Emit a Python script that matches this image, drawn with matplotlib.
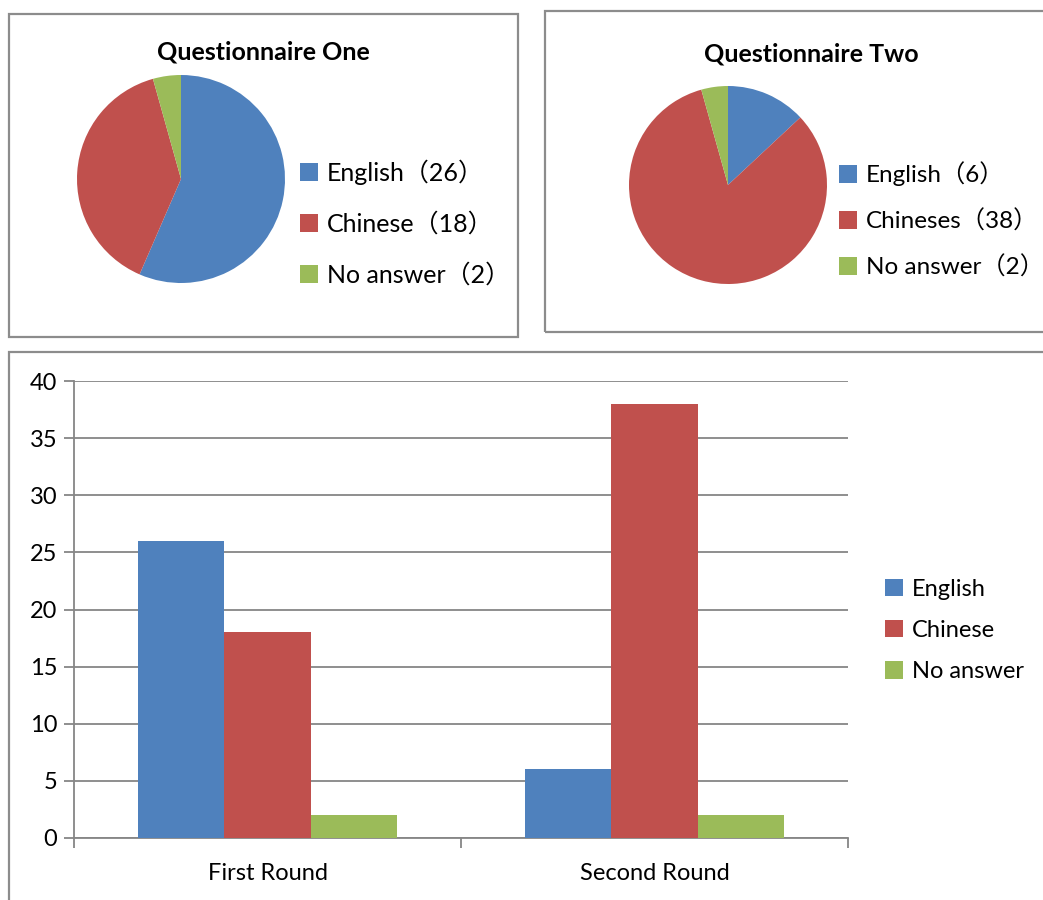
import matplotlib.pyplot as plt
from matplotlib.patches import Rectangle

# data
categories = ['English', 'Chinese', 'No answer']
q1_values = [26, 18, 2]
q2_values = [6, 38, 2]
q1_labels = ['English', 'Chinese', 'No answer']
q2_labels = ['English', 'Chineses', 'No answer']
rounds = ['First Round', 'Second Round']
colors = ['#4F81BD', '#C0504D', '#9BBB59']

FONT = ['Lato', 'Noto Sans CJK SC', 'DejaVu Sans']
plt.rcParams['font.family'] = FONT

W, H = 1043, 900
fig = plt.figure(figsize=(W / 100, H / 100), dpi=100)


def frac(x0, y0, x1, y1):
    # pixel box (top-left origin) -> figure fraction rect
    return [x0 / W, 1 - y1 / H, (x1 - x0) / W, (y1 - y0) / H]


def box(x0, y0, x1, y1):
    r = frac(x0, y0, x1, y1)
    fig.patches.append(Rectangle((r[0], r[1]), r[2], r[3], transform=fig.transFigure,
                                 fill=False, edgecolor='#8c8c8c', linewidth=1.6))


# chart frames
box(9, 14, 518, 337)
box(545, 11, 1050, 332)
box(9, 352, 1050, 910)


def pie_panel(cx, cy, r, values, labels, title, title_xy, legend_xy, spacing, lsize):
    ax = fig.add_axes(frac(cx - r, cy - r, cx + r, cy + r))
    wedges, _ = ax.pie(values, colors=colors, startangle=90, counterclock=False,
                       wedgeprops=dict(linewidth=0))
    ax.set_xlim(-1, 1)
    ax.set_ylim(-1, 1)
    ax.set_aspect('equal')
    ax.axis('off')
    fig.text(title_xy[0] / W, 1 - title_xy[1] / H, title, ha='center', va='center',
             fontsize=18, fontweight='bold')
    leg_labels = [f'{l}（{v}）' for l, v in zip(labels, values)]
    fig.legend(wedges, leg_labels, loc='center left',
               bbox_to_anchor=(legend_xy[0] / W, 1 - legend_xy[1] / H),
               frameon=False, fontsize=lsize, borderpad=0, borderaxespad=0,
               handlelength=13 / lsize, handleheight=13 / lsize, handletextpad=6.5 / lsize,
               labelspacing=spacing)


pie_panel(181, 179, 104, q1_values, q1_labels, 'Questionnaire One', (263, 52), (300, 223), 1.08, 18)
pie_panel(728, 185, 99, q2_values, q2_labels, 'Questionnaire Two', (811, 54), (839, 220), 0.95, 17.5)

# bar chart
ax = fig.add_axes(frac(74, 381, 848, 838))
bw = 0.2234
for i, cat in enumerate(categories):
    vals = [q1_values[i], q2_values[i]]
    xs = [k + (i - 1) * bw for k in range(len(rounds))]
    ax.bar(xs, vals, width=bw, color=colors[i], label=cat, zorder=3)

ax.set_xlim(-0.5, len(rounds) - 0.5)
ax.set_ylim(0, 40)
ax.set_yticks(range(0, 41, 5))
ax.set_xticks([-0.5, 0.5, 1.5])
ax.set_xticklabels([])
ax.set_xticks(range(len(rounds)), minor=True)
ax.set_xticklabels(rounds, minor=True)
ax.tick_params(axis='x', which='major', length=7, width=1.3, color='#868686')
ax.tick_params(axis='x', which='minor', length=0, pad=18, labelsize=17)
ax.tick_params(axis='y', length=7, width=1.3, color='#868686', pad=5, labelsize=17)
ax.grid(axis='y', color='#868686', linewidth=1.3, zorder=0)
for s in ['top', 'right']:
    ax.spines[s].set_visible(False)
for s in ['left', 'bottom']:
    ax.spines[s].set_color('#868686')
    ax.spines[s].set_linewidth(1.3)

ax.legend(loc='center left', bbox_to_anchor=(885 / W, 1 - 630.5 / H),
          bbox_transform=fig.transFigure, frameon=False, fontsize=17,
          borderpad=0, borderaxespad=0, handlelength=0.76, handleheight=0.76,
          handletextpad=0.38, labelspacing=0.86)

fig.savefig('out.png', dpi=100)
